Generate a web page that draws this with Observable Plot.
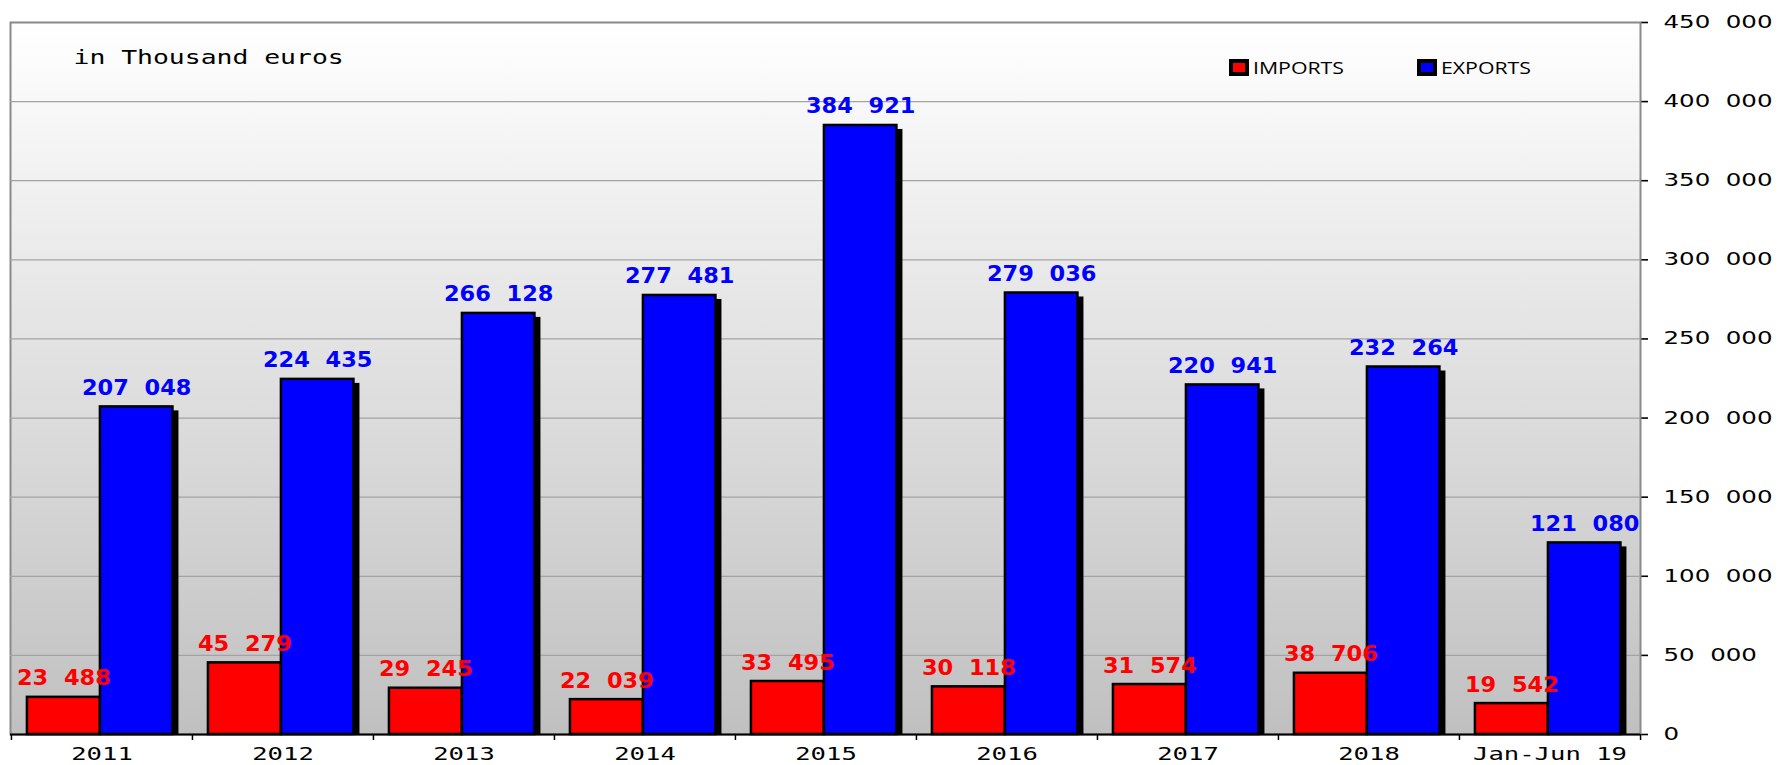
<!DOCTYPE html>
<html><head><meta charset="utf-8">
<script src="https://cdn.jsdelivr.net/npm/d3@7"></script>
<script src="https://cdn.jsdelivr.net/npm/@observablehq/plot@0.6"></script>
<style>
html,body{margin:0;padding:0;background:#fff;}
#wrap{position:relative;width:1779px;height:765px;overflow:hidden;}
#legend{position:absolute;left:1231px;top:55px;}
#legend > div{font:16px "Open Sans",sans-serif !important;margin:0 !important;min-height:0 !important;height:25px;display:flex;align-items:center;color:#000;}
#legend span{width:188px;margin:0 !important;display:inline-flex;align-items:center;}
#legend span > svg{margin-right:6px !important;}
#legend svg rect{stroke:#000;stroke-width:4;}
#legend .t{display:inline-block;transform:scaleX(1.33);transform-origin:0 50%;white-space:nowrap;}
g[aria-label^="y-axis"] text{font:17px "DejaVu Sans",sans-serif;fill:#000;}
g[aria-label^="x-axis"] text{font:18px "DejaVu Sans Mono",monospace;fill:#000;}
g[aria-label^="y-axis"] path, g[aria-label^="y-axis"] line{stroke-width:1.6;}
</style></head><body><div id="wrap"><div id="legend"></div></div>
<script>
const categories = ["2011", "2012", "2013", "2014", "2015", "2016", "2017", "2018", "Jan-Jun 19"];
const importsValues = [23488, 45279, 29245, 22039, 33495, 30118, 31574, 38706, 19542];
const exportsValues = [207048, 224435, 266128, 277481, 384921, 279036, 220941, 232264, 121080];
const seriesNames = ["IMPORTS", "EXPORTS"];
const seriesColors = ["#ff0000", "#0000ff"];
const yTicks = [0, 50000, 100000, 150000, 200000, 250000, 300000, 350000, 400000, 450000];
const noteText = "in Thousand euros";

const rows = [
  ...categories.map((c, i) => ({category: c, series: "IMPORTS", value: importsValues[i]})),
  ...categories.map((c, i) => ({category: c, series: "EXPORTS", value: exportsValues[i]}))
];
const bySeries = s => rows.filter(d => d.series === s);

const W = 1779, H = 765, mL = 10, mR = 139, mT = 22, mB = 31;
const step = (W - mL - mR) / categories.length;
const slot = {IMPORTS: [0.088, 0.491], EXPORTS: [0.491, 0.892]};
const fmt = v => v === 0 ? "0" : d3.format(",")(v).replace(/,/g, "\u00a0\u00a0");
const barOpts = (s, extra = {}) => ({
  x: "category", y: "value", fill: "series",
  insetLeft: slot[s][0] * step, insetRight: (1 - slot[s][1]) * step, ...extra
});
const labelDx = s => ((slot[s][0] + slot[s][1]) / 2 - 0.5) * step;

const marks = [
  Plot.frame({fill: "url(#bgGrad)", stroke: "#8a8a8a", strokeWidth: 2}),
  Plot.ruleY(yTicks.slice(1, -1), {stroke: "#a3a3a3", strokeWidth: 1.2})
];
for (const s of seriesNames) {
  marks.push(Plot.barY(bySeries(s), barOpts(s, {fill: "#000", dx: 6, insetTop: 4})));
}
for (const s of seriesNames) {
  marks.push(Plot.barY(bySeries(s), barOpts(s, {stroke: "#000", strokeWidth: 2.5})));
}
marks.push(Plot.ruleY([0], {stroke: "#000", strokeWidth: 2}));
marks.push(Plot.ruleX(categories, {x: d => d, y1: 0, y2: 0, dx: -step / 2, insetBottom: -6, stroke: "#000", strokeWidth: 1.5}));
marks.push(Plot.ruleX(categories.slice(-1), {x: d => d, y1: 0, y2: 0, dx: step / 2, insetBottom: -6, stroke: "#000", strokeWidth: 1.5}));
for (const s of seriesNames) {
  marks.push(Plot.text(bySeries(s), {
    x: "category", y: "value", text: d => fmt(d.value), fill: "series",
    dx: labelDx(s), dy: -12, lineAnchor: "bottom",
    fontFamily: "DejaVu Sans", fontWeight: "bold", fontSize: 21
  }));
}
marks.push(Plot.text([noteText], {
  text: d => d, frameAnchor: "top-left", dx: 63, dy: 41, lineAnchor: "bottom", textAnchor: "start",
  fontFamily: "DejaVu Sans Mono", fontSize: 20, fill: "#000"
}));

const chart = Plot.plot({
  width: W, height: H,
  marginLeft: mL, marginRight: mR, marginTop: mT, marginBottom: mB,
  style: {background: "#fff", color: "#000"},
  x: {domain: categories, padding: 0, tickSize: 0, tickPadding: 13, label: null},
  y: {domain: [0, 450000], axis: "right", ticks: yTicks, tickFormat: fmt, tickSize: 7, tickPadding: 16, label: null, line: true},
  color: {domain: seriesNames, range: seriesColors},
  marks
});
document.getElementById("wrap").prepend(chart);

const svgEl = chart.tagName.toLowerCase() === "svg" ? chart : chart.querySelector("svg");
const svg = d3.select(svgEl);
const defs = svg.insert("defs", ":first-child");
const grad = defs.append("linearGradient").attr("id", "bgGrad").attr("x1", 0).attr("y1", 0).attr("x2", 0).attr("y2", 1);
grad.append("stop").attr("offset", 0).attr("stop-color", "#ffffff");
grad.append("stop").attr("offset", 1).attr("stop-color", "#c0c0c0");

function stretchEl(el, k) {
  const L = el.getComputedTextLength();
  if (L > 0) {
    el.setAttribute("textLength", L * k);
    el.setAttribute("lengthAdjust", "spacingAndGlyphs");
  }
}
svgEl.querySelectorAll("text").forEach(el => {
  const g = el.closest("g[aria-label]");
  const lab = g ? g.getAttribute("aria-label") : "";
  if (lab.startsWith("y-axis")) stretchEl(el, 1.44);
  else if (lab.startsWith("x-axis")) stretchEl(el, 1.42);
  else if (el.textContent === noteText) stretchEl(el, 1.32);
  else stretchEl(el, 1.07);
});

const legend = Plot.legend({
  color: {type: "ordinal", domain: seriesNames, range: seriesColors},
  legend: "swatches", swatchWidth: 16, swatchHeight: 13
});
document.getElementById("legend").appendChild(legend);
document.querySelectorAll("#legend span").forEach(span => {
  [...span.childNodes].forEach(n => {
    if (n.nodeType === 3 && n.textContent.trim()) {
      const t = document.createElement("span");
      t.className = "t";
      t.textContent = n.textContent;
      span.replaceChild(t, n);
    }
  });
});
</script></body></html>
